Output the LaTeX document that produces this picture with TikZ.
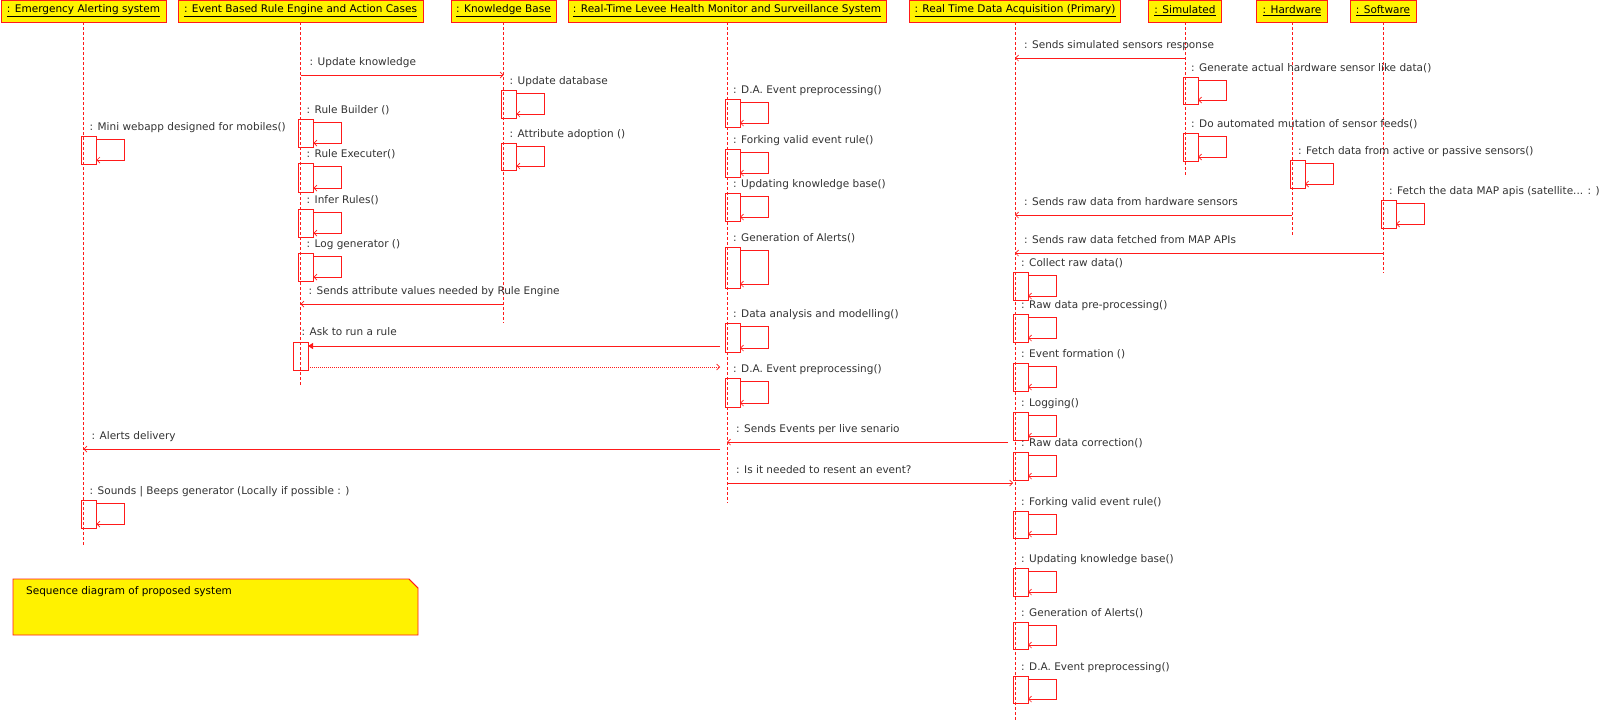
\documentclass[tikz,border=0pt]{standalone}
\usepackage{fontspec}
\setmainfont{DejaVu Sans}
\usetikzlibrary{calc,arrows.meta}
\definecolor{lred}{HTML}{FF1A1A}
\definecolor{txtc}{HTML}{333333}
\newcommand\selfcall[5]{%
  \node[act, minimum height={(#4)-(#3)}, anchor=north west] (#1) at ($(#2 |- 0,#3)+(-2,0)$) {};
  \draw[loopl] ($(#1.north east)+(0,3)$) -| ($(#2 |- 0,{#4-4})+(41,0)$) -- ($(#1.south east)+(0,-4)$);
  \node[lbl] at ($(#2 |- 0,{#3-8.5})+(6,0)$) {#5};
}
\begin{document}
\begin{tikzpicture}[x=1pt,y=-1pt,
  font=\fontsize{10.5}{12}\selectfont,
  head/.style={draw=lred, line width=0.9pt, fill=yellow, minimum height=22pt, inner sep=0pt, text=black},
  lifeline/.style={draw=lred, dash pattern=on 3pt off 2pt, line width=0.9pt},
  act/.style={draw=lred, line width=0.9pt, minimum width=15pt, inner sep=0pt, outer sep=0pt},
  loopl/.style={draw=lred, line width=0.9pt, -{Straight Barb[length=3pt,width=6pt,line width=0.7pt]}},
  msg/.style={draw=lred, line width=1pt, -{Straight Barb[length=3pt,width=6pt,line width=0.7pt]}},
  sync/.style={draw=lred, line width=1pt, -{Triangle[length=5pt,width=6pt]}},
  ret/.style={draw=lred, line width=0.8pt, dash pattern=on 1pt off 1pt, -{Straight Barb[length=3pt,width=6pt,line width=0.7pt]}},
  lbl/.style={anchor=west, text=txtc, inner sep=0pt, text height=7.5pt, text depth=2pt},
]
\fill[white] (0,0) rectangle (1600,721);
\useasboundingbox (0,0) rectangle (1600,721);

% headers
\node[head, minimum width=165pt] (emg) at (83.5,11) {\underline{: Emergency Alerting system}};
\node[head, minimum width=245pt] (evt) at (300.5,11) {\underline{: Event Based Rule Engine and Action Cases}};
\node[head, minimum width=105pt] (kb) at (503.5,11) {\underline{: Knowledge Base}};
\node[head, minimum width=318pt] (lev) at (727,11) {\underline{: Real-Time Levee Health Monitor and Surveillance System}};
\node[head, minimum width=211pt] (daq) at (1015,11) {\underline{: Real Time Data Acquisition (Primary)}};
\node[head, minimum width=73pt] (sim) at (1185,11) {\underline{: Simulated}};
\node[head, minimum width=71pt] (hw) at (1292,11) {\underline{: Hardware}};
\node[head, minimum width=66pt] (sw) at (1383,11) {\underline{: Software}};

% lifelines
\draw[lifeline] (emg.south) -- (emg |- 0,545);
\draw[lifeline] (evt.south) -- (evt |- 0,387);
\draw[lifeline] (kb.south) -- (kb |- 0,323);
\draw[lifeline] (lev.south) -- (lev |- 0,503);
\draw[lifeline] (daq.south) -- (daq |- 0,721);
\draw[lifeline] (sim.south) -- (sim |- 0,177);
\draw[lifeline] (hw.south) -- (hw |- 0,235);
\draw[lifeline] (sw.south) -- (sw |- 0,273);

% self calls
\selfcall{s1}{emg}{136}{164}{: Mini webapp designed for mobiles()}
\selfcall{s2}{emg}{500}{528}{: Sounds | Beeps generator (Locally if possible : )}
\selfcall{s3}{evt}{119}{147}{: Rule Builder ()}
\selfcall{s4}{evt}{163}{192}{: Rule Executer()}
\selfcall{s5}{evt}{209}{237}{: Infer Rules()}
\selfcall{s6}{evt}{253}{281}{: Log generator ()}
\selfcall{s7}{kb}{90}{118}{: Update database}
\selfcall{s8}{kb}{143}{170}{: Attribute adoption ()}
\selfcall{s9}{lev}{99}{127}{: D.A. Event preprocessing()}
\selfcall{s10}{lev}{149}{177}{: Forking valid event rule()}
\selfcall{s11}{lev}{193}{221}{: Updating knowledge base()}
\selfcall{s12}{lev}{247}{288}{: Generation of Alerts()}
\selfcall{s13}{lev}{323}{352}{: Data analysis and modelling()}
\selfcall{s14}{lev}{378}{407}{: D.A. Event preprocessing()}
\selfcall{s15}{daq}{272}{300}{: Collect raw data()}
\selfcall{s16}{daq}{314}{342}{: Raw data pre-processing()}
\selfcall{s17}{daq}{363}{391}{: Event formation ()}
\selfcall{s18}{daq}{412}{440}{: Logging()}
\selfcall{s19}{daq}{452}{480}{: Raw data correction()}
\selfcall{s20}{daq}{511}{538}{: Forking valid event rule()}
\selfcall{s21}{daq}{568}{596}{: Updating knowledge base()}
\selfcall{s22}{daq}{622}{649}{: Generation of Alerts()}
\selfcall{s23}{daq}{676}{703}{: D.A. Event preprocessing()}
\selfcall{s24}{sim}{77}{104}{: Generate actual hardware sensor like data()}
\selfcall{s25}{sim}{133}{161}{: Do automated mutation of sensor feeds()}
\selfcall{s26}{hw}{160}{188}{: Fetch data from active or passive sensors()}
\selfcall{s27}{sw}{200}{228}{: Fetch the data MAP apis (satellite... : )}

% activation on rule engine for the synchronous call
\node[act, minimum height=28pt] (a0) at (evt |- 0,356) {};

% messages
\draw[msg] (evt |- 0,75) -- (kb |- 0,75);
\node[lbl] at ($(evt |- 0,63)+(9,0)$) {: Update knowledge};
\draw[msg] (sim |- 0,58) -- (daq |- 0,58);
\node[lbl] at ($(daq |- 0,46)+(9,0)$) {: Sends simulated sensors response};
\draw[msg] (kb |- 0,304) -- (evt |- 0,304);
\node[lbl] at ($(evt |- 0,292)+(8,0)$) {: Sends attribute values needed by Rule Engine};
\draw[sync] ($(lev |- 0,346)+(-7,0)$) -- (a0.east |- 0,346);
\node[lbl] at ($(evt |- 0,333)+(1,0)$) {: Ask to run a rule};
\draw[ret] ($(a0.east |- 0,367)+(2,0)$) -- ($(lev |- 0,367)+(-7,0)$);
\draw[msg] (hw |- 0,215) -- (daq |- 0,215);
\node[lbl] at ($(daq |- 0,203)+(9,0)$) {: Sends raw data from hardware sensors};
\draw[msg] (sw |- 0,253) -- (daq |- 0,253);
\node[lbl] at ($(daq |- 0,241)+(9,0)$) {: Sends raw data fetched from MAP APIs};
\draw[msg] ($(daq |- 0,442)+(-7,0)$) -- (lev |- 0,442);
\node[lbl] at ($(lev |- 0,430)+(9,0)$) {: Sends Events per live senario};
\draw[msg] ($(lev |- 0,449)+(-7,0)$) -- (emg |- 0,449);
\node[lbl] at ($(emg |- 0,437)+(8,0)$) {: Alerts delivery};
\draw[msg] (lev |- 0,483) -- ($(daq |- 0,483)+(-2,0)$);
\node[lbl] at ($(lev |- 0,471)+(9,0)$) {: Is it needed to resent an event?};

% note
\draw[draw=lred, line width=0.9pt, fill=yellow] (13,579) -- (409,579) -- (418,588) -- (418,635) -- (13,635) -- cycle;
\draw[draw=lred, line width=0.7pt] (409,579) -- (418,588);
\node[lbl, text=black] (note) at (26,592) {Sequence diagram of proposed system};
\end{tikzpicture}
\end{document}
